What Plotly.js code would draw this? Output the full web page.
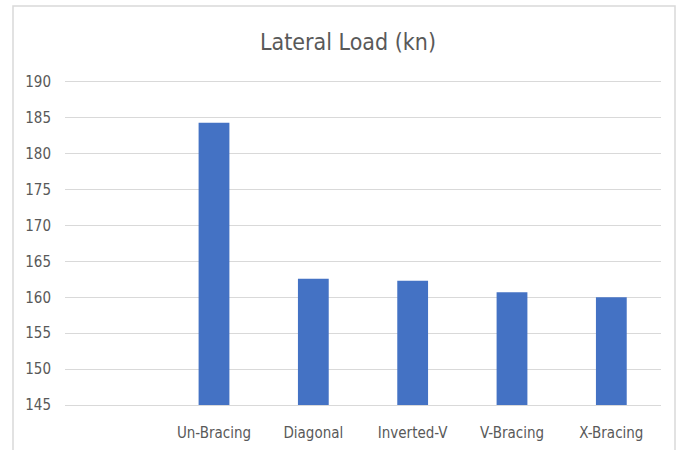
<!DOCTYPE html>
<html>
<head>
<meta charset="utf-8">
<script src="https://cdn.plot.ly/plotly-3.0.1.min.js"></script>
<style>
html,body{margin:0;padding:0;background:#fff;}
#chart{width:683px;height:450px;}
</style>
</head>
<body>
<div id="chart"></div>
<script>
const categories = ['Un-Bracing', 'Diagonal', 'Inverted-V', 'V-Bracing', 'X-Bracing'];
const lateralLoad = [184.3, 162.6, 162.3, 160.7, 160.0];
const chartTitle = 'Lateral Load (kn)';

const FONT = '"Liberation Sans Narrow", "DejaVu Sans Condensed", "Open Sans", sans-serif';

const trace = {
  type: 'bar',
  x: categories,
  y: lateralLoad,
  marker: {color: '#4472C4'},
  hoverinfo: 'x+y'
};

const layout = {
  width: 683,
  height: 450,
  margin: {l: 65, r: 22, t: 78, b: 45},
  paper_bgcolor: '#ffffff',
  plot_bgcolor: '#ffffff',
  showlegend: false,
  bargap: 0.69,
  title: {
    text: chartTitle,
    font: {family: FONT, size: 23, color: '#595959'},
    x: 348 / 683, xanchor: 'center', xref: 'container',
    y: 1 - 42 / 450, yref: 'container', yanchor: 'middle'
  },
  xaxis: {
    type: 'category',
    range: [-1.5, 4.5],
    showgrid: false,
    showline: true,
    linecolor: '#D9D9D9',
    linewidth: 1,
    ticks: '',
    ticklabelstandoff: 14,
    tickfont: {family: FONT, size: 15, color: '#595959'},
    fixedrange: true
  },
  yaxis: {
    range: [145, 190.55],
    dtick: 5,
    tick0: 145,
    showgrid: true,
    gridcolor: '#D9D9D9',
    gridwidth: 1,
    zeroline: false,
    showline: false,
    ticks: '',
    ticklabelstandoff: 13,
    tickfont: {family: FONT, size: 15, color: '#595959'},
    fixedrange: true
  },
  shapes: [{
    type: 'rect',
    xref: 'paper', yref: 'paper',
    x0: (13 - 65) / 596, x1: (675 - 65) / 596,
    y0: (405 - 460) / 327, y1: (405 - 6) / 327,
    line: {color: '#D9D9D9', width: 1.5},
    fillcolor: 'rgba(0,0,0,0)',
    layer: 'below'
  }]
};

Plotly.newPlot('chart', [trace], layout, {displayModeBar: false, staticPlot: true});
</script>
</body>
</html>
